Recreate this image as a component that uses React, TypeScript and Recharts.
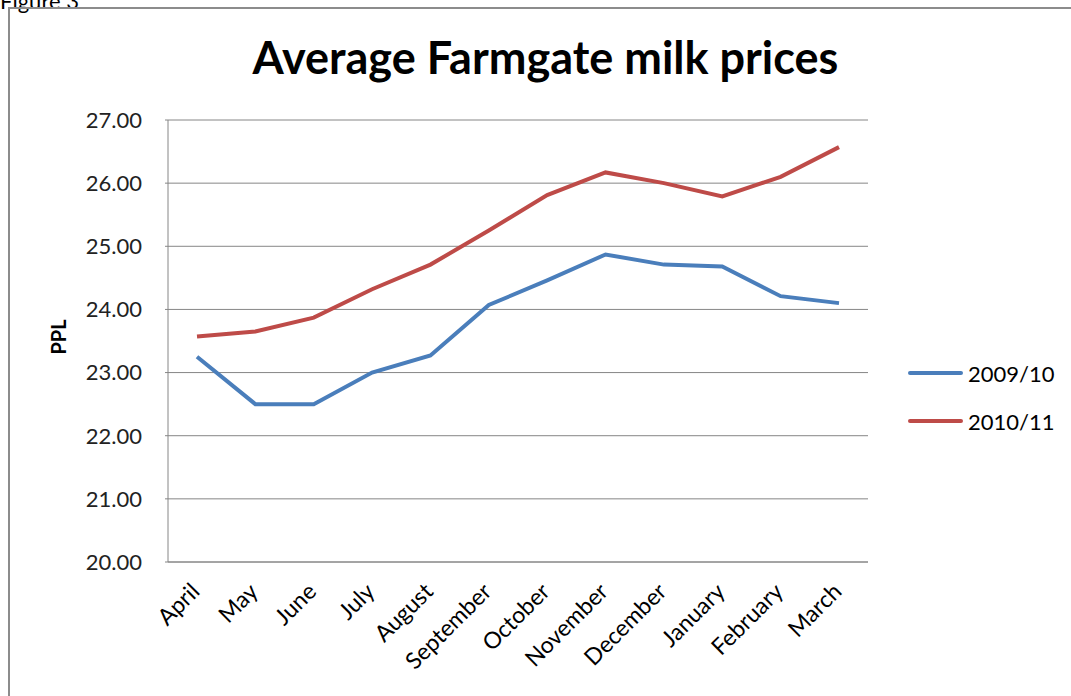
import React from 'react';
import { LineChart, Line, XAxis, YAxis, CartesianGrid, Legend } from 'recharts';

const months = ['April', 'May', 'June', 'July', 'August', 'September', 'October', 'November', 'December', 'January', 'February', 'March'];
const prices0910 = [23.25, 22.5, 22.5, 23.0, 23.27, 24.07, 24.46, 24.87, 24.71, 24.68, 24.21, 24.1];
const prices1011 = [23.57, 23.65, 23.87, 24.32, 24.71, 25.25, 25.81, 26.17, 26.0, 25.79, 26.1, 26.57];
const yTicks = [20, 21, 22, 23, 24, 25, 26, 27];

const data = months.map((m, i) => ({ month: m, s0910: prices0910[i], s1011: prices1011[i] }));

const FONT = 'Lato, "Open Sans", sans-serif';

const MonthTick = (props: any) => {
  const { x, y, payload } = props;
  const ax = x - 9;
  const ay = y + 10;
  return (
    <text
      x={ax}
      y={ay}
      transform={`rotate(-45 ${ax} ${ay})`}
      textAnchor="end"
      dominantBaseline="hanging"
      fontSize={23}
      fontFamily={FONT}
      fill="#000"
    >
      {payload.value}
    </text>
  );
};

const PplLabel = (props: any) => {
  const { viewBox } = props;
  const cx = viewBox.x + 58;
  const cy = viewBox.y + viewBox.height / 2 - 4;
  return (
    <text
      x={cx}
      y={cy}
      transform={`rotate(-90 ${cx} ${cy})`}
      textAnchor="middle"
      dominantBaseline="central"
      fontFamily={FONT}
      fontWeight={700}
      fontSize={20}
      fill="#000"
    >
      PPL
    </text>
  );
};

const LegendBox = () => (
  <div style={{ fontFamily: FONT, fontSize: 22, color: '#000' }}>
    {[{ c: '#4A7EBB', t: '2009/10' }, { c: '#BE4B48', t: '2010/11' }].map((e) => (
      <div key={e.t} style={{ display: 'flex', alignItems: 'center', height: 48 }}>
        <div style={{ width: 55, height: 4, background: e.c, borderRadius: 2, marginRight: 5 }} />
        <span>{e.t}</span>
      </div>
    ))}
  </div>
);

export default function App() {
  return (
    <div style={{ position: 'absolute', left: 0, top: 0, width: 1071, height: 696, overflow: 'hidden', background: '#fff' }}>
      <div style={{ position: 'absolute', left: 0, top: -13, fontFamily: FONT, fontSize: 22 }}>Figure 3</div>
      <div style={{ position: 'absolute', left: 8, top: 7, width: 1100, height: 720, border: '2px solid #8c8c8c' }} />
      <div style={{ position: 'absolute', left: 0, top: 30, width: 1071, textAlign: 'center', paddingLeft: 20, boxSizing: 'border-box', fontFamily: FONT, fontWeight: 700, fontSize: 45 }}>
        Average Farmgate milk prices
      </div>
      <div style={{ position: 'absolute', left: 0, top: 0 }}>
        <LineChart width={1071} height={696} data={data} margin={{ top: 120, right: 203, bottom: 34, left: 0 }}>
          <CartesianGrid vertical={false} stroke="#868686" strokeWidth={1} />
          <XAxis
            dataKey="month"
            interval={0}
            height={100}
            padding={{ left: 29, right: 29 }}
            tickLine={false}
            axisLine={{ stroke: '#868686' }}
            tick={<MonthTick />}
          />
          <YAxis
            domain={[20, 27]}
            ticks={yTicks}
            width={168}
            tickSize={3}
            tickLine={{ stroke: '#868686' }}
            axisLine={{ stroke: '#868686' }}
            tickFormatter={(v: number) => v.toFixed(2)}
            tick={{ fontSize: 22, fontFamily: FONT, fill: '#222' }}
            tickMargin={23}
            label={<PplLabel />}
          />
          <Legend
            layout="vertical"
            align="center"
            verticalAlign="middle"
            content={<LegendBox />}
            wrapperStyle={{ position: 'absolute', left: 908, top: 349, width: 160 }}
          />
          <Line dataKey="s0910" name="2009/10" stroke="#4A7EBB" strokeWidth={4} dot={false} isAnimationActive={false} />
          <Line dataKey="s1011" name="2010/11" stroke="#BE4B48" strokeWidth={4} dot={false} isAnimationActive={false} />
        </LineChart>
      </div>
    </div>
  );
}
